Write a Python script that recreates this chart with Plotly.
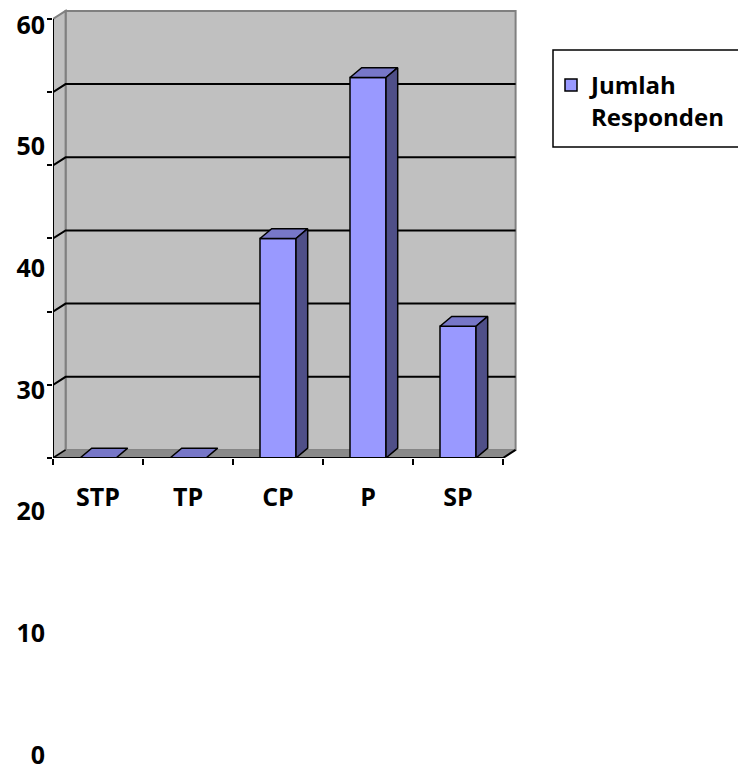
import plotly.graph_objects as go

# ---------------- data ----------------
categories = ["STP", "TP", "CP", "P", "SP"]
values = [0, 0, 30, 52, 18]
y_tick_values = [0, 10, 20, 30, 40, 50, 60]
y_tick_labels = ["0", "10", "20", "30", "40", "50", "60"]
series_name = "Jumlah<br>Responden"

# ---------------- styling / geometry ----------------
W, H = 738, 773
FONT = "Open Sans"
FS = 25
LEG_FS = 24
FRONT = "#9999FF"
TOP = "#7777C8"
SIDE = "#4F4F88"
WALL = "#C0C0C0"
WALL_EDGE = "#808080"
FLOOR = "#8A8A8A"

X0, X1 = -0.5, len(categories) - 0.5
YMAX = 60
WALL_DX, WALL_DY = 0.14, 1.1
BAR_W = 0.4
BAR_DX, BAR_DY = 0.13, 1.35
PAD_X, PAD_Y = 0.03, 0.3


# reference pixel positions -> paper fractions
def fx(px):
    return px / W


def fy(py):
    return 1 - py / H


AX_LEFT_PX, AX_BOTTOM_PX = 53, 458
PX_X = 90.0
PX_Y = (458 - 19) / 60.0

x_range = [X0, X1 + WALL_DX + PAD_X]
y_range = [0, YMAX + WALL_DY + PAD_Y]
x_dom = [fx(AX_LEFT_PX), fx(AX_LEFT_PX + (x_range[1] - x_range[0]) * PX_X)]
y_dom = [fy(AX_BOTTOM_PX), fy(AX_BOTTOM_PX - y_range[1] * PX_Y)]


def poly(pts):
    return "M " + " L ".join(f"{x},{y}" for x, y in pts) + " Z"


def pline(pts):
    return "M " + " L ".join(f"{x},{y}" for x, y in pts)


fig = go.Figure()

shapes = []
# back wall
shapes.append(dict(type="path", xref="x", yref="y", layer="below",
                   path=poly([(X0 + WALL_DX, WALL_DY), (X0 + WALL_DX, YMAX + WALL_DY),
                              (X1 + WALL_DX, YMAX + WALL_DY), (X1 + WALL_DX, WALL_DY)]),
                   fillcolor=WALL, line=dict(color=WALL_EDGE, width=2)))
# side wall
shapes.append(dict(type="path", xref="x", yref="y", layer="below",
                   path=poly([(X0, 0), (X0, YMAX), (X0 + WALL_DX, YMAX + WALL_DY), (X0 + WALL_DX, WALL_DY)]),
                   fillcolor=WALL, line=dict(color=WALL_EDGE, width=2)))
# floor
shapes.append(dict(type="path", xref="x", yref="y", layer="below",
                   path=poly([(X0, 0), (X1, 0), (X1 + WALL_DX, WALL_DY), (X0 + WALL_DX, WALL_DY)]),
                   fillcolor=FLOOR, line=dict(color=FLOOR, width=1)))
# gridlines
for v in y_tick_values[1:-1]:
    shapes.append(dict(type="path", xref="x", yref="y", layer="below",
                       path=pline([(X0, v), (X0 + WALL_DX, v + WALL_DY), (X1 + WALL_DX, v + WALL_DY)]),
                       line=dict(color="black", width=2)))
# floor left diagonal
shapes.append(dict(type="path", xref="x", yref="y", layer="below",
                   path=pline([(X0, 0), (X0 + WALL_DX, WALL_DY)]), line=dict(color="black", width=1.5)))
# legend frame (runs past the right edge, as in the original)
shapes.append(dict(type="rect", xref="paper", yref="paper", layer="below",
                   x0=fx(553), x1=fx(760), y0=fy(147), y1=fy(50),
                   fillcolor="white", line=dict(color="black", width=1.5)))

# front faces (legend entry)
xs = list(range(len(categories)))
fig.add_trace(go.Bar(x=xs, y=values, width=BAR_W, name=series_name,
                     marker=dict(color=FRONT, line=dict(color="black", width=1.5)),
                     showlegend=True, hoverinfo="skip"))

# top and side faces
for xc, v in zip(xs, values):
    l, r = xc - BAR_W / 2, xc + BAR_W / 2
    top = [(l, v), (r, v), (r + BAR_DX, v + BAR_DY), (l + BAR_DX, v + BAR_DY), (l, v)]
    fig.add_trace(go.Scatter(x=[p[0] for p in top], y=[p[1] for p in top], mode="lines",
                             fill="toself", fillcolor=TOP, line=dict(color="black", width=1.5),
                             showlegend=False, hoverinfo="skip", cliponaxis=False))
    if v > 0:
        side = [(r, 0), (r + BAR_DX, BAR_DY), (r + BAR_DX, v + BAR_DY), (r, v), (r, 0)]
        fig.add_trace(go.Scatter(x=[p[0] for p in side], y=[p[1] for p in side], mode="lines",
                                 fill="toself", fillcolor=SIDE, line=dict(color="black", width=1.5),
                                 showlegend=False, hoverinfo="skip", cliponaxis=False))

# axis lines
fig.add_trace(go.Scatter(x=[X0, X0], y=[0, YMAX], mode="lines", line=dict(color="black", width=2),
                         showlegend=False, hoverinfo="skip", cliponaxis=False))
fig.add_trace(go.Scatter(x=[X0, X1, X1 + WALL_DX], y=[0, 0, WALL_DY], mode="lines",
                         line=dict(color="black", width=2),
                         showlegend=False, hoverinfo="skip", cliponaxis=False))

# dummy trace for the label axis
fig.add_trace(go.Scatter(x=[None], y=[None], xaxis="x", yaxis="y2", showlegend=False, hoverinfo="skip"))

label_font = dict(family=FONT, size=FS, color="black", weight="bold")

fig.update_layout(
    width=W, height=H,
    margin=dict(l=0, r=0, t=0, b=0, autoexpand=False),
    paper_bgcolor="white", plot_bgcolor="rgba(0,0,0,0)",
    font=dict(family=FONT, size=FS, color="black"),
    shapes=shapes,
    xaxis=dict(domain=x_dom, range=x_range, tickmode="array", tickvals=xs, ticktext=categories,
               ticks="", showgrid=False, zeroline=False, showline=False, automargin=False,
               tickfont=label_font, ticklabelstandoff=22,
               minor=dict(tickmode="array", tickvals=[X0 + i for i in range(len(categories) + 1)],
                          ticks="outside", ticklen=6, tickwidth=1.5, tickcolor="black", showgrid=False)),
    yaxis=dict(domain=y_dom, range=y_range, tickmode="array", tickvals=y_tick_values,
               showticklabels=False, ticks="outside", ticklen=5, tickwidth=1.5, tickcolor="black",
               showgrid=False, zeroline=False, showline=False, automargin=False),
    yaxis2=dict(domain=[fy(755), fy(25)], range=[0, 60], anchor="free", position=fx(45),
                tickmode="array", tickvals=y_tick_values, ticktext=y_tick_labels,
                ticks="", showgrid=False, zeroline=False, showline=False, automargin=False,
                ticklabeloverflow="allow", tickfont=label_font),
    legend=dict(x=fx(551), y=fy(63), xanchor="left", yanchor="top",
                borderwidth=0, bgcolor="rgba(0,0,0,0)",
                font=dict(family=FONT, size=LEG_FS, color="black", weight="bold"),
                valign="top", tracegroupgap=0),
    showlegend=True,
)

# remove the browser's default page margin so the figure fills the window exactly
fig.write_html("out.html", config={"displayModeBar": False},
               post_script="document.body.style.margin='0';document.body.style.overflow='hidden';")
